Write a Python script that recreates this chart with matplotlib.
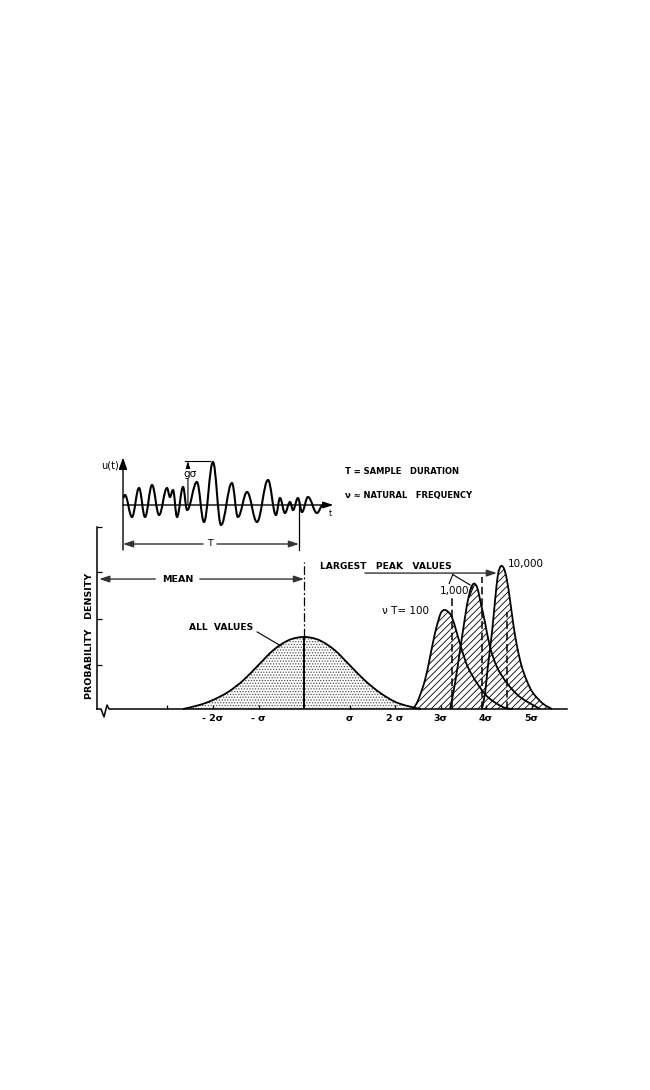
import numpy as np
import matplotlib
matplotlib.use("Agg")
import matplotlib.pyplot as plt
from matplotlib.path import Path
from matplotlib.patches import PathPatch

# ---------------- data ----------------
# "all values" density, x in sigma units
GAUSS_X = [-2.66, -2.3, -2.0, -1.67, -1.33, -1.0, -0.67, -0.33, 0.0, 0.33, 0.67, 1.0, 1.33, 1.67, 2.0, 2.3, 2.57]
GAUSS_Y = [0.0, 0.022, 0.05, 0.094, 0.16, 0.244, 0.327, 0.382, 0.399, 0.382, 0.327, 0.244, 0.16, 0.09, 0.04, 0.015, 0.0]

# largest peak value densities for nu*T = 100, 1000, 10000
P100_X = [2.40, 2.51, 2.66, 2.77, 2.88, 2.99, 3.05, 3.10, 3.16, 3.25, 3.36, 3.47, 3.60, 3.80, 4.04, 4.37, 4.59]
P100_Y = [0.0, 0.05, 0.161, 0.288, 0.421, 0.521, 0.545, 0.548, 0.54, 0.51, 0.421, 0.327, 0.233, 0.144, 0.066, 0.011, 0.0]
P1000_X = [3.21, 3.32, 3.43, 3.54, 3.60, 3.67, 3.74, 3.81, 3.87, 3.98, 4.09, 4.24, 4.46, 4.75, 5.19]
P1000_Y = [0.0, 0.144, 0.327, 0.51, 0.60, 0.67, 0.695, 0.67, 0.604, 0.477, 0.343, 0.233, 0.144, 0.066, 0.0]
P10000_X = [3.91, 3.98, 4.04, 4.13, 4.20, 4.26, 4.31, 4.35, 4.40, 4.46, 4.53, 4.60, 4.68, 4.78, 4.90, 5.03, 5.25, 5.45]
P10000_Y = [0.0, 0.089, 0.233, 0.421, 0.604, 0.74, 0.785, 0.792, 0.775, 0.715, 0.60, 0.47, 0.35, 0.24, 0.155, 0.09, 0.03, 0.0]

# dashed markers (expected largest value) positions and heights
DASH_X = [3.25, 3.91, 4.46]
DASH_TOP = [0.62, 0.73, 0.537]

PEAK_LABELS = ["\u03bd T= 100", "1,000", "10,000"]

XTICK_POS = [-3, -2, -1, 1, 2, 3, 4, 5]
XTICK_LABELS = ["", "- 2\u03c3", "- \u03c3", "\u03c3", "2 \u03c3", "3\u03c3", "4\u03c3", "5\u03c3"]
YTICK_POS = [0.244, 0.499, 0.759, 1.008]

# sample record u(t): extrema, t in units of T, u in sigma units
SIGNAL_T = [0.000, 0.011, 0.051, 0.091, 0.125, 0.165, 0.205, 0.250, 0.267, 0.284, 0.307,
            0.341, 0.364, 0.420, 0.460, 0.511, 0.557, 0.619, 0.653, 0.705, 0.761, 0.824,
            0.869, 0.892, 0.920, 0.949, 0.966, 0.994, 1.017, 1.051, 1.102, 1.136]
SIGNAL_U = [0.56, 0.8, -0.96, 1.36, -0.96, 1.6, -0.8, 1.36, 0.64, 1.2, -0.96,
            1.44, -0.4, 1.84, -1.36, 3.44, -1.6, 1.76, -0.96, 1.04, -1.36, 2.0,
            -0.8, 0.56, -0.64, 0.24, -0.4, 0.56, -0.56, 0.64, -0.64, 0.0]
G_SIGMA = 3.52

# ---------------- helpers ----------------
W, H = 650, 1090
plt.rcParams["font.family"] = ["DejaVu Sans"]
plt.rcParams["hatch.linewidth"] = 0.6

fig = plt.figure(figsize=(6.5, 10.9), dpi=100)
fig.patch.set_facecolor("white")


def box(x0, y0, x1, y1):
    return [x0 / W, 1 - y1 / H, (x1 - x0) / W, (y1 - y0) / H]


def smooth(xs, ys):
    pts = np.column_stack([xs, ys]).astype(float)
    n = len(pts)
    verts = [pts[0]]
    codes = [Path.MOVETO]
    for i in range(n - 1):
        p0 = pts[i - 1] if i > 0 else pts[i]
        p1 = pts[i]
        p2 = pts[i + 1]
        p3 = pts[i + 2] if i + 2 < n else pts[i + 1]
        verts += [p1 + (p2 - p0) / 6.0, p2 - (p3 - p1) / 6.0, p2]
        codes += [Path.CURVE4] * 3
    return verts, codes


def closed(xs, ys):
    v, c = smooth(xs, ys)
    fv = v + [(xs[-1], 0.0), (xs[0], 0.0), (xs[0], 0.0)]
    fc = c + [Path.LINETO, Path.LINETO, Path.CLOSEPOLY]
    return fv, fc


def wave(ts, us, k=0.38):
    verts = [(ts[0], us[0])]
    codes = [Path.MOVETO]
    for i in range(len(ts) - 1):
        dt = ts[i + 1] - ts[i]
        verts += [(ts[i] + k * dt, us[i]), (ts[i + 1] - k * dt, us[i + 1]), (ts[i + 1], us[i + 1])]
        codes += [Path.CURVE4] * 3
    return Path(verts, codes)


def outline(ax, xs, ys, zorder):
    v, c = smooth(xs, ys)
    ax.add_patch(PathPatch(Path(v, c), facecolor="none", edgecolor="black",
                           lw=1.3, zorder=zorder, clip_on=False))


# ---------------- bottom chart ----------------
ax = fig.add_axes(box(97, 527, 567, 709))
ax.set_xlim((97 - 304) / 45.5, (567 - 304) / 45.5)
ax.set_ylim(0, (709 - 527) / 180.5)
ax.patch.set_alpha(0)
for s in ["top", "right", "bottom"]:
    ax.spines[s].set_visible(False)
ax.spines["left"].set_linewidth(1.1)
ax.set_xticks(XTICK_POS)
ax.set_xticklabels(XTICK_LABELS)
ax.set_yticks(YTICK_POS)
ax.tick_params(axis="x", direction="in", length=3, width=0.9, pad=3.5, labelsize=6.8)
ax.tick_params(axis="y", direction="in", length=3.5, width=0.9, labelleft=False)
for lbl in ax.get_xticklabels():
    lbl.set_fontweight("bold")

xl, xr = ax.get_xlim()
# baseline with axis break
ax.plot([xl, -4.462, -4.396, -4.33, -4.286, xr],
        [0.0, 0.0, -0.044, 0.022, 0.0, 0.0], color="black", lw=1.1, clip_on=False, zorder=6)

# all-values density (stippled)
gv, gc = closed(GAUSS_X, GAUSS_Y)
ax.add_patch(PathPatch(Path(gv, gc), facecolor="none", edgecolor="#505050",
                       hatch="......", lw=0, zorder=2))
outline(ax, GAUSS_X, GAUSS_Y, 3)

# largest-peak densities (hatched, one union patch so hatching lines up)
uv, uc = [], []
for xs, ys in [(P100_X, P100_Y), (P1000_X, P1000_Y), (P10000_X, P10000_Y)]:
    v, c = closed(xs, ys)
    uv += v
    uc += c
ax.add_patch(PathPatch(Path(uv, uc), facecolor="none", edgecolor="black",
                       hatch="/////", lw=0, zorder=3, clip_on=False))
for xs, ys in [(P100_X, P100_Y), (P1000_X, P1000_Y), (P10000_X, P10000_Y)]:
    outline(ax, xs, ys, 4)

# mean line
ax.plot([0, 0], [0, max(GAUSS_Y)], color="black", lw=1.4, zorder=5)
ax.plot([0, 0], [max(GAUSS_Y), 0.814], color="black", lw=0.9,
        linestyle=(0, (7, 2, 1.5, 2)), zorder=5, clip_on=False)

# dashed markers
for x, top in zip(DASH_X, DASH_TOP):
    ax.plot([x, x], [0, top], color="black", lw=1.1, linestyle=(0, (5, 2.5)), zorder=6)

arrow_kw = dict(arrowstyle="-|>,head_length=0.6,head_width=0.2", color="#333333",
                lw=1.0, shrinkA=0, shrinkB=0)
# MEAN dimension
ax.annotate("", xy=(-4.50, 0.72), xytext=(-3.27, 0.72), arrowprops=arrow_kw, annotation_clip=False)
ax.annotate("", xy=(0.0, 0.72), xytext=(-2.29, 0.72), arrowprops=arrow_kw, annotation_clip=False)
ax.text(-2.78, 0.72, "MEAN", ha="center", va="center", fontsize=6.8, fontweight="bold")

# LARGEST PEAK VALUES
ax.text(1.80, 0.792, "LARGEST   PEAK   VALUES", ha="center", va="center", fontsize=6.6, fontweight="bold")
ax.annotate("", xy=(4.24, 0.753), xytext=(1.34, 0.753), arrowprops=arrow_kw, annotation_clip=False)
ax.plot([3.27, 3.65], [0.745, 0.687], color="black", lw=0.8, zorder=7)
ax.plot([3.27, 3.19], [0.745, 0.695], color="black", lw=0.8, zorder=7)

# peak labels
ax.text(2.22, 0.543, PEAK_LABELS[0], ha="center", va="center", fontsize=7.5)
ax.text(3.32, 0.653, PEAK_LABELS[1], ha="center", va="center", fontsize=7.5)
ax.plot([3.63, 3.72], [0.62, 0.675], color="black", lw=0.8)
ax.text(4.88, 0.803, PEAK_LABELS[2], ha="center", va="center", fontsize=7.5)

# ALL VALUES
ax.text(-1.82, 0.449, "ALL  VALUES", ha="center", va="center", fontsize=6.6, fontweight="bold")
ax.plot([-1.03, -0.505], [0.427, 0.349], color="black", lw=0.8)

fig.text(90 / W, 1 - 636 / H, "PROBABILITY   DENSITY", rotation=90, ha="center",
         va="center", fontsize=6.8, fontweight="bold")

# ---------------- sample record ----------------
sx = fig.add_axes(box(95, 450, 345, 560), facecolor="none")
sx.set_xlim((95 - 123) / 176, (345 - 123) / 176)
sx.set_ylim((505 - 560) / 12.5, (505 - 450) / 12.5)
sx.axis("off")

sx.add_patch(PathPatch(wave(SIGNAL_T, SIGNAL_U), facecolor="none", edgecolor="black", lw=1.5, zorder=3))

ax_kw = dict(arrowstyle="-|>,head_length=0.7,head_width=0.25", color="black",
             lw=1.0, shrinkA=0, shrinkB=0)
sx.annotate("", xy=(0, 3.8), xytext=(0, -3.6), arrowprops=ax_kw)
sx.annotate("", xy=(1.195, 0), xytext=(0, 0),
            arrowprops=dict(arrowstyle="-|>,head_length=0.6,head_width=0.2", color="black",
                            lw=1.0, shrinkA=0, shrinkB=0))
sx.text(-0.074, 3.12, "u(t)", ha="center", va="center", fontsize=7)
sx.text(1.18, -0.64, "t", ha="center", va="center", fontsize=5.5)

# g sigma dimension
sx.annotate("", xy=(0.369, G_SIGMA), xytext=(0.369, 0),
            arrowprops=dict(arrowstyle="-|>,head_length=0.5,head_width=0.15", color="black",
                            lw=0.8, shrinkA=0, shrinkB=0))
sx.plot([0.352, 0.494], [G_SIGMA, G_SIGMA], color="black", lw=0.8)
sx.text(0.381, 2.48, "g\u03c3", ha="center", va="center", fontsize=7.5,
        bbox=dict(facecolor="white", edgecolor="none", pad=0.3), zorder=4)

# T dimension
sx.plot([1.0, 1.0], [0.4, -3.6], color="black", lw=0.9)
sx.annotate("", xy=(0, -3.12), xytext=(0.455, -3.12), arrowprops=arrow_kw)
sx.annotate("", xy=(1.0, -3.12), xytext=(0.534, -3.12), arrowprops=arrow_kw)
sx.text(0.494, -3.12, "T", ha="center", va="center", fontsize=6.8)

fig.text(345 / W, 1 - 471 / H, "T = SAMPLE   DURATION", ha="left", va="center",
         fontsize=6.0, fontweight="bold")
fig.text(345 / W, 1 - 495 / H, "\u03bd \u2248 NATURAL   FREQUENCY", ha="left", va="center",
         fontsize=6.0, fontweight="bold")

fig.savefig("out.png", dpi=100, facecolor="white")
